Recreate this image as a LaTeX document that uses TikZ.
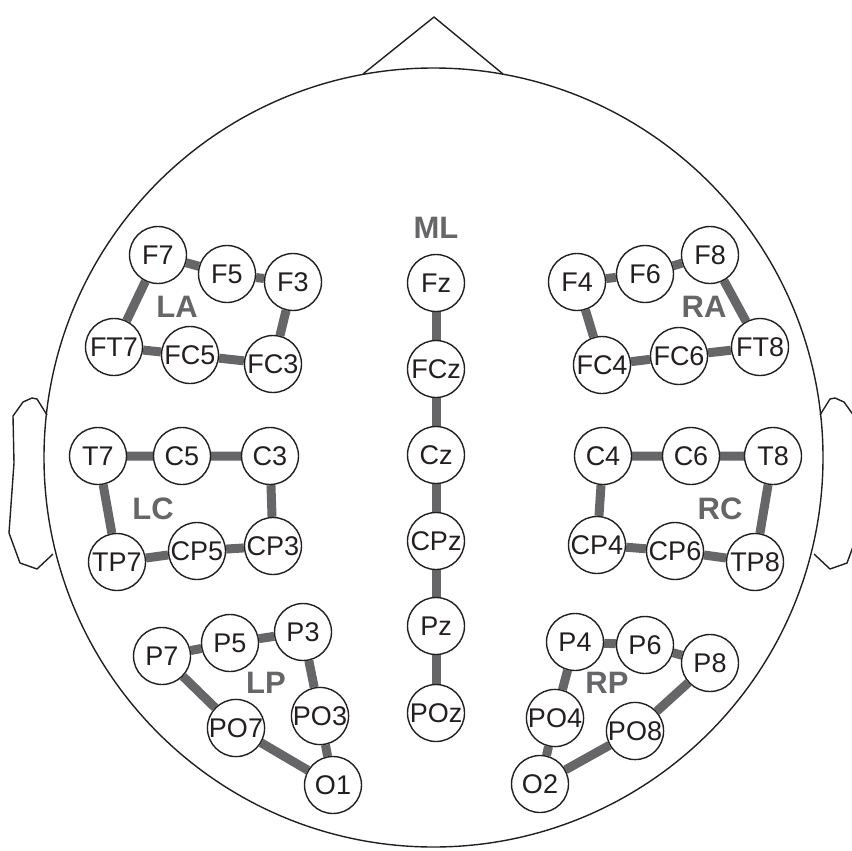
\documentclass[tikz,border=0pt]{standalone}
\usepackage{fontspec}
\setmainfont{Liberation Sans}
\usetikzlibrary{backgrounds}
\definecolor{linkgray}{HTML}{666668}
\definecolor{ink}{HTML}{231F20}
\tikzset{
  elec/.style={circle, draw=ink, line width=1.4pt, fill=white, minimum size=57pt, inner sep=0pt, text=ink, font=\fontsize{27}{27}\selectfont},
  link/.style={draw=linkgray, line width=9pt},
  region/.style={text=linkgray, font=\fontsize{31}{31}\selectfont\bfseries},
  outline/.style={draw=ink, line width=1.4pt, line join=round}
}
\begin{document}
\begin{tikzpicture}[x=1pt,y=-1pt]
\useasboundingbox (0,0) rectangle (851,851);
% head
\draw[outline] (433.5,457.5) circle (389.5);
\draw[outline] (363,74) -- (434,17) -- (503,74);
\draw[outline] (47,415) -- (37,399) -- (32,398) -- (23,402) -- (13,416) -- (14,463) -- (9,533) -- (20,563) -- (37,569) -- (53,554);
\draw[outline] (820,415) -- (830,399) -- (835,398) -- (844,402) -- (854,416) -- (853,463) -- (858,533) -- (847,563) -- (830,569) -- (814,554);
% electrodes
\node[elec] (F7) at (158,255) {F7};
\node[elec] (F5) at (227,274) {F5};
\node[elec] (F3) at (293,282) {F3};
\node[elec] (FT7) at (114,347) {FT7};
\node[elec] (FC5) at (190,355) {FC5};
\node[elec] (FC3) at (273,364) {FC3};
\node[elec] (F4) at (577,282) {F4};
\node[elec] (F6) at (645,274) {F6};
\node[elec] (F8) at (710,255) {F8};
\node[elec] (FC4) at (602,365) {FC4};
\node[elec] (FC6) at (679,356) {FC6};
\node[elec] (FT8) at (760,347) {FT8};
\node[elec] (Fz) at (436,283) {Fz};
\node[elec] (FCz) at (436,369) {FCz};
\node[elec] (Cz) at (436,455) {Cz};
\node[elec] (CPz) at (436,541) {CPz};
\node[elec] (Pz) at (436,626) {Pz};
\node[elec] (POz) at (436,713) {POz};
\node[elec] (T7) at (98,456) {T7};
\node[elec] (C5) at (182,456) {C5};
\node[elec] (C3) at (270,456) {C3};
\node[elec] (TP7) at (117,562) {TP7};
\node[elec] (CP5) at (197,551) {CP5};
\node[elec] (CP3) at (273,546) {CP3};
\node[elec] (C4) at (603,456) {C4};
\node[elec] (C6) at (691,456) {C6};
\node[elec] (T8) at (773,456) {T8};
\node[elec] (CP4) at (597,545) {CP4};
\node[elec] (CP6) at (675,551) {CP6};
\node[elec] (TP8) at (755,562) {TP8};
\node[elec] (P7) at (162,656) {P7};
\node[elec] (P5) at (230,643) {P5};
\node[elec] (P3) at (303,632) {P3};
\node[elec] (PO7) at (236,728) {PO7};
\node[elec] (PO3) at (320,716) {PO3};
\node[elec] (O1) at (333,785) {O1};
\node[elec] (P4) at (575,642) {P4};
\node[elec] (P6) at (645,645) {P6};
\node[elec] (P8) at (710,663) {P8};
\node[elec] (PO4) at (555,718) {PO4};
\node[elec] (PO8) at (635,731) {PO8};
\node[elec] (O2) at (540,784) {O2};
% region labels
\node[region] (ML) at (436,228) {ML};
\node[region] (LA) at (177,307) {LA};
\node[region] (RA) at (704,307) {RA};
\node[region] (LC) at (153,509) {LC};
\node[region] (RC) at (720,509) {RC};
\node[region] (LP) at (266,683) {LP};
\node[region] (RP) at (607,683) {RP};
% links
\begin{pgfonlayer}{background}
\draw[link] (F7) -- (F5) -- (F3) -- (FC3) -- (FC5) -- (FT7) -- (F7);
\draw[link] (F4) -- (F6) -- (F8) -- (FT8) -- (FC6) -- (FC4) -- (F4);
\draw[link] (Fz) -- (FCz) -- (Cz) -- (CPz) -- (Pz) -- (POz);
\draw[link] (T7) -- (C5) -- (C3) -- (CP3) -- (CP5) -- (TP7) -- (T7);
\draw[link] (C4) -- (C6) -- (T8) -- (TP8) -- (CP6) -- (CP4) -- (C4);
\draw[link] (P7) -- (P5) -- (P3) -- (PO3) -- (O1) -- (PO7) -- (P7);
\draw[link] (P4) -- (P6) -- (P8) -- (PO8) -- (O2) -- (PO4) -- (P4);
\end{pgfonlayer}
\end{tikzpicture}
\end{document}
